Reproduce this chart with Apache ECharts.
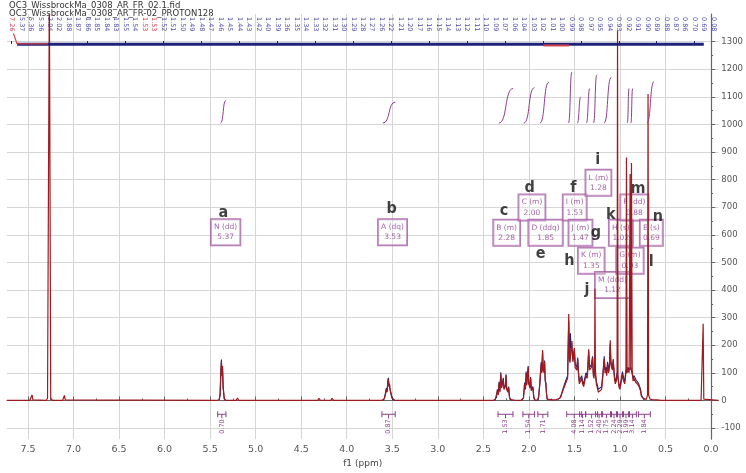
<!DOCTYPE html>
<html>
<head>
<meta charset="utf-8">
<script src="https://cdn.jsdelivr.net/npm/echarts@6/dist/echarts.min.js"></script>
<style>
html,body{margin:0;padding:0;background:#fff;}
#chart{width:746px;height:473px;}
</style>
</head>
<body>
<div id="chart"></div>
<script>
// Axis ticks
const X_TICKS = [0, 0.5, 1, 1.5, 2, 2.5, 3, 3.5, 4, 4.5, 5, 5.5, 6, 6.5, 7, 7.5];
const X_MINOR = [0.25, 0.75, 1.25, 1.75, 2.25, 2.75, 3.25, 3.75, 4.25, 4.75, 5.25, 5.75, 6.25, 6.75, 7.25];
const Y_TICKS = [-100, 0, 100, 200, 300, 400, 500, 600, 700, 800, 900, 1000, 1100, 1200, 1300];
const Y_MINOR = [-50, 50, 150, 250, 350, 450, 550, 650, 750, 850, 950, 1050, 1150, 1250, 1350];

// Spectrum 1 (red trace): [ppm, intensity]
const SPEC_RED = [
  [7.73,0],[7.48,0],[7.465,2],[7.455,20],[7.445,2],[7.30,0],[7.285,8],[7.265,1500],[7.25,8],[7.23,0],
  [7.12,0],[7.11,2],[7.10,18],[7.09,2],[5.43,0],[5.40,3],[5.39,20],[5.382,100],[5.376,140],[5.370,90],
  [5.364,125],[5.357,50],[5.345,8],[5.33,0],[5.215,0],[5.20,9],[5.185,0],[4.32,0],[4.306,8],[4.29,0],
  [4.175,0],[4.161,8],[4.145,0],[3.62,0],[3.59,5],[3.575,20],[3.565,40],[3.557,30],[3.55,60],[3.543,77],
  [3.536,50],[3.53,60],[3.522,35],[3.515,30],[3.505,10],[3.49,3],[3.47,0],[3.26,0],[3.249,3],[3.235,0],
  [2.40,0],[2.37,3],[2.355,10],[2.346,35],[2.338,20],[2.328,60],[2.318,30],[2.309,97],[2.30,45],[2.295,40],
  [2.288,50],[2.281,75],[2.274,40],[2.266,40],[2.258,50],[2.251,90],[2.244,40],[2.237,35],[2.23,30],[2.222,45],
  [2.215,15],[2.208,5],[2.18,2],[2.15,0],
  [2.09,0],[2.06,8],[2.047,60],[2.038,40],[2.03,100],[2.024,55],[2.019,60],[2.013,50],[2.008,120],[2.002,60],
  [1.997,55],[1.989,45],[1.981,80],[1.974,35],[1.967,30],[1.961,35],[1.956,45],[1.947,12],[1.938,2],[1.92,0],
  [1.91,0],[1.893,12],[1.88,60],[1.873,55],[1.866,130],[1.858,100],[1.85,183],[1.844,110],[1.839,110],[1.833,100],
  [1.828,140],[1.821,70],[1.814,60],[1.807,25],[1.80,5],[1.78,2],[1.74,2],
  [1.70,3],[1.66,8],[1.628,35],[1.61,50],[1.592,67],[1.575,80],[1.563,313],[1.556,150],[1.549,137],[1.538,180],
  [1.527,215],[1.518,140],[1.511,150],[1.501,190],[1.492,120],[1.483,120],[1.474,110],[1.464,148],[1.455,90],[1.446,60],
  [1.434,70],[1.421,80],[1.41,60],[1.399,50],[1.387,70],[1.374,90],[1.36,80],[1.352,120],[1.344,185],[1.335,110],
  [1.326,110],[1.314,120],[1.301,155],[1.293,90],[1.286,80],[1.279,120],[1.275,405],[1.27,110],[1.26,60],[1.248,45],
  [1.238,30],[1.222,35],[1.202,40],[1.19,80],[1.18,120],[1.173,150],[1.164,100],[1.155,110],[1.146,90],[1.137,130],
  [1.125,100],[1.116,120],[1.107,218],[1.10,130],[1.093,120],[1.083,110],[1.074,150],[1.064,90],[1.052,60],[1.04,70],
  [1.032,90],[1.027,1340],[1.022,90],[1.012,50],[1.002,40],[0.99,60],[0.973,95],[0.96,70],[0.948,60],[0.935,100],
  [0.929,880],[0.922,100],[0.91,113],[0.90,100],[0.889,820],[0.882,110],[0.874,860],[0.866,110],[0.856,70],[0.847,80],
  [0.838,81],[0.825,65],[0.809,60],[0.797,55],[0.784,52],[0.775,35],[0.765,15],[0.75,8],[0.736,5],[0.71,5],
  [0.698,20],[0.692,1110],[0.686,20],[0.67,5],[0.64,2],[0.59,2],[0.55,0],
  [0.11,0],[0.095,5],[0.087,278],[0.08,5],[0.06,0],[-0.08,0]
];

// Spectrum 2 (blue trace), multiplet regions
const SPEC_BLUE = [
  [5.40,3],[5.39,25],[5.382,110],[5.376,148],[5.370,95],[5.364,120],[5.357,45],[5.345,6],[5.33,0], null,
  [3.60,0],[3.585,10],[3.575,28],[3.565,45],[3.557,32],[3.55,70],[3.543,82],[3.536,55],[3.53,58],[3.522,38],
  [3.515,28],[3.505,12],[3.49,2],[3.47,0], null,
  [2.38,0],[2.355,12],[2.346,40],[2.338,25],[2.328,68],[2.318,35],[2.309,102],[2.30,50],[2.295,45],[2.288,55],
  [2.281,82],[2.274,45],[2.266,45],[2.258,55],[2.251,95],[2.244,45],[2.237,40],[2.23,35],[2.222,50],[2.215,18],
  [2.208,6],[2.18,0], null,
  [2.08,0],[2.06,10],[2.047,65],[2.038,45],[2.03,105],[2.024,60],[2.019,65],[2.013,55],[2.008,125],[2.002,65],
  [1.997,60],[1.989,50],[1.981,85],[1.974,40],[1.967,35],[1.961,40],[1.956,50],[1.947,15],[1.938,3],[1.92,0], null,
  [1.90,0],[1.893,15],[1.88,65],[1.873,60],[1.866,138],[1.858,105],[1.85,178],[1.844,115],[1.839,115],[1.833,105],
  [1.828,145],[1.821,75],[1.814,65],[1.807,28],[1.80,6],[1.78,2], null,
  [1.68,4],[1.65,12],[1.628,40],[1.61,58],[1.592,75],[1.575,90],[1.563,290],[1.556,170],[1.549,150],[1.545,243],
  [1.538,200],[1.527,205],[1.518,150],[1.511,165],[1.501,185],[1.492,130],[1.483,125],[1.474,120],[1.464,155],[1.455,100],
  [1.446,70],[1.434,80],[1.421,90],[1.41,70],[1.399,60],[1.387,80],[1.374,100],[1.36,90],[1.352,130],[1.344,178],
  [1.335,120],[1.326,120],[1.314,130],[1.301,160],[1.293,100],[1.286,90],[1.279,115],[1.272,120],[1.26,70],[1.248,55],
  [1.238,40],[1.222,45],[1.202,50],[1.19,90],[1.18,130],[1.173,160],[1.164,110],[1.155,120],[1.146,100],[1.137,140],
  [1.125,110],[1.116,130],[1.107,205],[1.10,140],[1.093,130],[1.083,120],[1.074,145],[1.064,100],[1.052,70],[1.04,80],
  [1.032,100],[1.022,100],[1.012,60],[1.002,50],[0.99,70],[0.973,105],[0.96,80],[0.948,70],[0.935,110],[0.922,110],
  [0.91,120],[0.90,110],[0.882,120],[0.866,120],[0.856,80],[0.847,90],[0.838,90],[0.825,75],[0.809,70],[0.797,62],
  [0.784,60],[0.775,42],[0.765,20],[0.75,10],[0.736,6],[0.72,3]
];

// Picked peak labels (top row)
const PEAK_LABELS = ['7.26','5.37','5.36','5.36','2.04','2.02','1.88','1.87','1.86','1.85','1.84','1.83',
  '1.55','1.54','1.53','1.53','1.52','1.51','1.50','1.49','1.48','1.47','1.46','1.45','1.44','1.43','1.42',
  '1.40','1.39','1.36','1.35','1.34','1.33','1.32','1.31','1.30','1.29','1.28','1.27','1.26','1.22','1.21',
  '1.20','1.17','1.16','1.15','1.14','1.13','1.12','1.11','1.10','1.09','1.07','1.06','1.04','1.03','1.02',
  '1.01','1.00','0.99','0.98','0.97','0.95','0.94','0.93','0.92','0.91','0.90','0.89','0.88','0.87','0.86',
  '0.70','0.69','0.08'];
const RED_PEAK_LABELS = [0, 14, 15];

// Multiplet annotations
const MULT_NAMES  = ['N (dd)','A (dq)','B (m)','C (m)','D (ddq)','I (m)','J (m)','L (m)','K (m)','M (ddd)','H (s)','F (dd)','G (m)','E (s)'];
const MULT_SHIFTS = ['5.37','3.53','2.28','2.00','1.85','1.53','1.47','1.28','1.35','1.12','1.02','0.88','0.93','0.69'];
const MULT_PPM    = [5.33, 3.497, 2.244, 1.967, 1.817, 1.497, 1.434, 1.237, 1.315, 1.082, 0.991, 0.842, 0.891, 0.656];
const MULT_LEVEL  = [631, 631, 629, 721, 629, 721, 629, 810, 528, 440, 629, 721, 528, 629];

// Assignment letters
const LETTERS      = ['a','b','c','d','e','f','g','h','i','j','k','l','m','n'];
const LETTER_PPM   = [5.355, 3.508, 2.273, 1.992, 1.872, 1.511, 1.264, 1.555, 1.246, 1.363, 1.10, 0.656, 0.801, 0.583];
const LETTER_LEVEL = [703, 717, 710, 792, 554, 792, 628, 528, 893, 423, 693, 523, 787, 687];

// Integral curves: start ppm, end ppm, rise
const INT_FROM = [5.386, 3.603, 2.33, 2.056, 1.88, 1.566, 1.469, 1.37, 1.292, 1.175, 0.92, 0.881, 0.705];
const INT_TO   = [5.327, 3.467, 2.174, 1.939, 1.781, 1.527, 1.43, 1.331, 1.254, 1.096, 0.90, 0.861, 0.626];
const INT_RISE = [82, 76, 125, 128, 148, 185, 94, 125, 175, 165, 125, 125, 150];

// Integration ranges with their values
const RANGE_FROM  = [5.417, 3.614, 2.339, 2.066, 1.902, 1.585, 1.443, 1.377, 1.268, 1.202, 1.104, 1.038, 0.973, 0.907, 0.798];
const RANGE_TO    = [5.326, 3.468, 2.175, 1.938, 1.792, 1.421, 1.377, 1.246, 1.191, 1.093, 1.027, 0.962, 0.896, 0.820, 0.667];
const RANGE_VALUE = ['0.70','0.87','1.53','1.54','1.71','4.08','1.14','1.52','2.40','1.75','2.24','2.29','1.99','3.14','1.84'];

const RED = '#9e1a1f';
const BLUE = '#1f2378';
const PURPLE = '#8d3f8d';
const INT_BASE = 1005;
const RANGE_LEVEL = -50;
const FONT = "'DejaVu Sans', Verdana, sans-serif";

const chart = echarts.init(document.getElementById('chart'), null, {renderer: 'canvas'});

const option = {
  animation: false,
  backgroundColor: '#ffffff',
  grid: {left: 7, right: 25, top: 14, bottom: 21, containLabel: false},
  graphic: [
    {type: 'text', left: 9, top: 1, style: {text: 'OC3_WissbrockMa_0308_AR_FR_02.1.fid', font: '8.5px ' + FONT, fill: '#333'}},
    {type: 'text', left: 9, top: 9, style: {text: 'OC3_WissbrockMa_0308_AR_FR-02_PROTON128', font: '8.5px ' + FONT, fill: '#333'}}
  ],
  xAxis: [
    {
      type: 'value', min: -0.08, max: 7.73, inverse: true, position: 'bottom',
      name: 'f1 (ppm)', nameLocation: 'middle', nameGap: 16,
      nameTextStyle: {fontFamily: FONT, fontSize: 9, color: '#444'},
      axisLine: {show: true, lineStyle: {color: '#666', width: 1}},
      axisTick: {show: true, inside: true, length: 4, customValues: X_TICKS, lineStyle: {color: '#666'}},
      axisLabel: {customValues: X_TICKS, formatter: v => v.toFixed(1), fontFamily: FONT, fontSize: 9.5, color: '#555', margin: 5},
      splitLine: {show: true, lineStyle: {color: '#d6d6d6', width: 1}}
    },
    {
      type: 'value', min: -0.08, max: 7.73, inverse: true, position: 'bottom',
      axisLine: {show: false},
      axisTick: {show: true, inside: true, length: 2, customValues: X_MINOR, lineStyle: {color: '#666'}},
      axisLabel: {show: false},
      splitLine: {show: false}
    },
    {
      type: 'category', position: 'top', data: PEAK_LABELS, boundaryGap: true,
      axisLine: {show: false}, axisTick: {show: false}, splitLine: {show: false},
      axisLabel: {
        inside: true, rotate: 90, interval: 0, margin: 3,
        fontFamily: FONT, fontSize: 6.5,
        color: (v, i) => RED_PEAK_LABELS.indexOf(i) >= 0 ? '#d2434b' : '#4b4ba8'
      }
    },
    {
      type: 'category', position: 'top', offset: -30, data: PEAK_LABELS, boundaryGap: true,
      axisLine: {show: false}, splitLine: {show: false}, axisLabel: {show: false},
      axisTick: {show: true, alignWithLabel: true, length: 3, lineStyle: {color: BLUE}}
    }
  ],
  yAxis: [
    {
      type: 'value', min: -140, max: 1400, position: 'right',
      axisLine: {show: true, lineStyle: {color: '#666', width: 1.2}},
      axisTick: {show: true, length: 4, customValues: Y_TICKS, lineStyle: {color: '#666'}},
      axisLabel: {customValues: Y_TICKS, formatter: v => String(v), fontFamily: FONT, fontSize: 8.5, color: '#555', margin: 3},
      splitLine: {show: true, lineStyle: {color: '#d6d6d6', width: 1}}
    },
    {
      type: 'value', min: -140, max: 1400, position: 'right',
      axisLine: {show: false},
      axisTick: {show: true, length: 2, customValues: Y_MINOR, lineStyle: {color: '#666'}},
      axisLabel: {show: false},
      splitLine: {show: false}
    }
  ],
  series: [
    // multiplet boxes
    {
      type: 'scatter', xAxisIndex: 0, yAxisIndex: 0, symbolSize: 0, silent: true, z: 2,
      data: MULT_NAMES.map((n, i) => ({value: [MULT_PPM[i], MULT_LEVEL[i]], name: n + '\n' + MULT_SHIFTS[i]})),
      label: {
        show: true, position: 'inside', offset: [0, 6], formatter: p => p.name,
        fontFamily: FONT, fontSize: 7.5, lineHeight: 10.5, color: PURPLE, align: 'center',
        borderColor: '#a058a0', borderWidth: 1, padding: [3, 3, 2, 3], backgroundColor: 'rgba(255,255,255,0.35)'
      }
    },
    // assignment letters
    {
      type: 'scatter', xAxisIndex: 0, yAxisIndex: 0, symbolSize: 0, silent: true, z: 2,
      data: LETTERS.map((l, i) => ({value: [LETTER_PPM[i], LETTER_LEVEL[i]], name: l})),
      label: {
        show: true, position: 'inside', offset: [0, 6], formatter: p => p.name,
        fontFamily: "'Liberation Sans Narrow', 'DejaVu Sans Condensed', sans-serif",
        fontSize: 16, fontWeight: 'bold', color: '#111'
      }
    },
    // blue trace
    {
      type: 'line', xAxisIndex: 0, yAxisIndex: 0, data: SPEC_BLUE, showSymbol: false, z: 3,
      connectNulls: false, lineStyle: {color: BLUE, width: 1.1}, silent: true
    },
    // red trace
    {
      type: 'line', xAxisIndex: 0, yAxisIndex: 0, data: SPEC_RED, showSymbol: false, z: 4,
      lineStyle: {color: RED, width: 1.2}, silent: true
    },
    // peak label connector band
    {
      type: 'line', xAxisIndex: 0, yAxisIndex: 0, showSymbol: false, z: 4, silent: true,
      data: [[7.62, 1290], [0.08, 1290]], lineStyle: {color: BLUE, width: 3}
    },
    {
      type: 'line', xAxisIndex: 0, yAxisIndex: 0, showSymbol: false, z: 5, silent: true,
      data: [[7.66, 1330], [7.62, 1292], [7.28, 1292]], lineStyle: {color: '#d2434b', width: 1.2}
    },
    {
      type: 'line', xAxisIndex: 0, yAxisIndex: 0, showSymbol: false, z: 5, silent: true,
      data: [[1.84, 1286], [1.56, 1286]], lineStyle: {color: '#d2434b', width: 2}
    },
    // integral curves
    {
      type: 'custom', xAxisIndex: 0, yAxisIndex: 0, z: 5, silent: true,
      data: INT_FROM.map((f, i) => [f, INT_TO[i], INT_RISE[i]]),
      renderItem: (params, api) => {
        const p0 = api.coord([api.value(0), INT_BASE]);
        const p1 = api.coord([api.value(1), INT_BASE + api.value(2)]);
        const mx = (p0[0] + p1[0]) / 2;
        return {
          type: 'bezierCurve',
          shape: {x1: p0[0], y1: p0[1], x2: p1[0], y2: p1[1], cpx1: mx + (p1[0] - p0[0]) * 0.1, cpy1: p0[1], cpx2: mx - (p1[0] - p0[0]) * 0.1, cpy2: p1[1]},
          style: {stroke: PURPLE, fill: null, lineWidth: 1}
        };
      }
    },
    // integration ranges
    {
      type: 'custom', xAxisIndex: 0, yAxisIndex: 0, z: 5, silent: true,
      data: RANGE_FROM.map((f, i) => [f, RANGE_TO[i]]),
      renderItem: (params, api) => {
        const a = api.coord([api.value(0), RANGE_LEVEL]);
        const b = api.coord([api.value(1), RANGE_LEVEL]);
        const cx = (a[0] + b[0]) / 2;
        const st = {stroke: PURPLE, lineWidth: 1};
        return {
          type: 'group',
          children: [
            {type: 'line', shape: {x1: a[0], y1: a[1], x2: b[0], y2: b[1]}, style: st},
            {type: 'line', shape: {x1: a[0], y1: a[1] - 3, x2: a[0], y2: a[1] + 3}, style: st},
            {type: 'line', shape: {x1: b[0], y1: b[1] - 3, x2: b[0], y2: b[1] + 3}, style: st},
            {type: 'line', shape: {x1: cx, y1: a[1], x2: cx, y2: a[1] + 4}, style: st},
            {type: 'text', x: cx, y: a[1] + 5, rotation: Math.PI / 2,
             style: {text: RANGE_VALUE[params.dataIndex], font: '6.5px ' + FONT, fill: PURPLE, align: 'right', verticalAlign: 'middle'}}
          ]
        };
      }
    }
  ]
};

chart.setOption(option);
</script>
</body>
</html>
